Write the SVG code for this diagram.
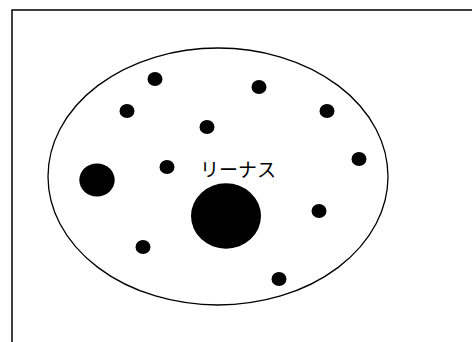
<svg xmlns="http://www.w3.org/2000/svg" width="472" height="342" viewBox="0 0 472 342">
<style>
.frame{fill:none;stroke:#000;stroke-width:1.5}
.oval{fill:#fff;stroke:#000;stroke-width:1.3}
.dot{fill:#000}
.lbl{font-family:"Noto Sans CJK JP","Noto Sans",sans-serif;font-size:19px;fill:#000}
</style>
<rect width="472" height="342" fill="#fff"/>
<g id="frame"><rect class="frame" x="12" y="10" width="470" height="340"/></g>
<g id="ellipse"><ellipse class="oval" cx="218" cy="176.5" rx="170" ry="128.5"/></g>
<g id="dots">
<ellipse class="dot" cx="155" cy="79" rx="7.5" ry="7"/>
<ellipse class="dot" cx="259" cy="87" rx="7.5" ry="7"/>
<ellipse class="dot" cx="127" cy="111" rx="7.5" ry="7"/>
<ellipse class="dot" cx="327" cy="111" rx="7.5" ry="7"/>
<ellipse class="dot" cx="207" cy="127" rx="7.5" ry="7"/>
<ellipse class="dot" cx="359" cy="159" rx="7.5" ry="7"/>
<ellipse class="dot" cx="167" cy="167" rx="7.5" ry="7"/>
<ellipse class="dot" cx="319" cy="211" rx="7.5" ry="7"/>
<ellipse class="dot" cx="143" cy="247" rx="7.5" ry="7"/>
<ellipse class="dot" cx="279" cy="279" rx="7.5" ry="7"/>
<ellipse class="dot" cx="97" cy="180" rx="17.7" ry="16.5"/>
</g>
<g id="linus">
<ellipse class="dot" cx="226" cy="216" rx="35" ry="32.7"/>
<text class="lbl" x="238" y="177" text-anchor="middle">リーナス</text>
</g>
</svg>
